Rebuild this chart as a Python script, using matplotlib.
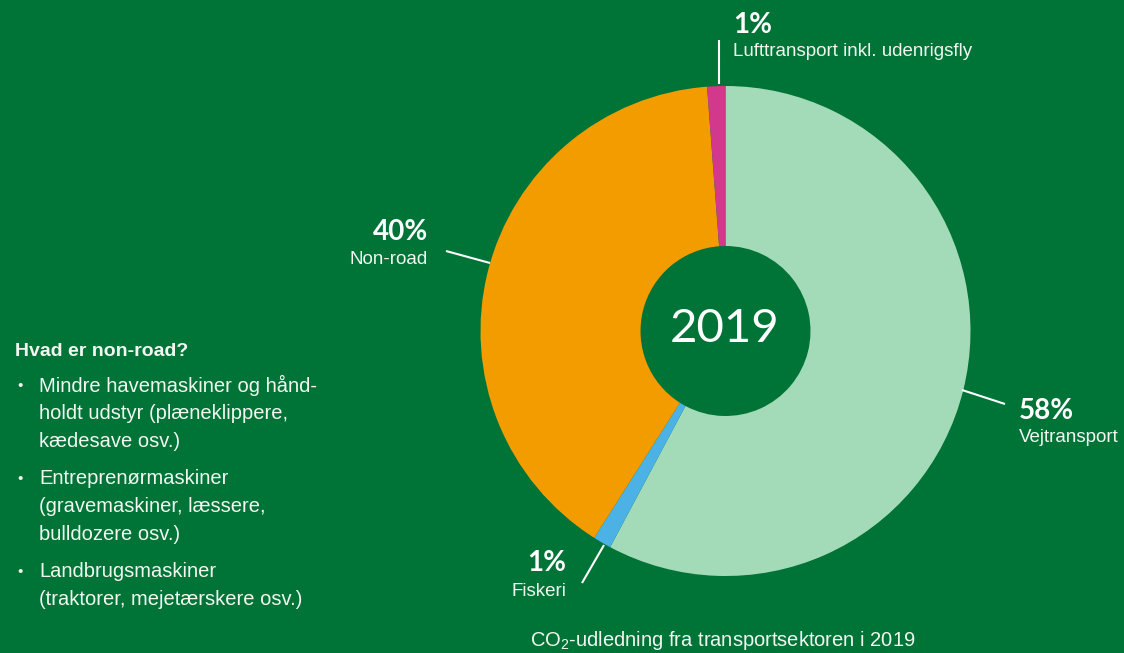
import matplotlib
matplotlib.use("Agg")
import matplotlib.pyplot as plt

# andele af CO2-udledning fra transportsektoren 2019
sectors = ["Vejtransport", "Fiskeri", "Non-road", "Lufttransport inkl. udenrigsfly"]
shares = [57.8, 1.2, 39.8, 1.2]
pct_labels = ["58%", "1%", "40%", "1%"]
colors = ["#a3dbb9", "#4cb1e5", "#f39c00", "#d2388c"]

year = "2019"
caption = "CO$_2$-udledning fra transportsektoren i 2019"
box_title = "Hvad er non-road?"
box_items = [
    ["Mindre havemaskiner og hånd-", "holdt udstyr (plæneklippere,", "kædesave osv.)"],
    ["Entreprenørmaskiner", "(gravemaskiner, læssere,", "bulldozere osv.)"],
    ["Landbrugsmaskiner", "(traktorer, mejetærskere osv.)"],
]

BG = "#007336"
FG = "#f2f7f2"
W, H = 1124, 653

plt.rcParams["mathtext.fontset"] = "custom"
plt.rcParams["mathtext.rm"] = "Liberation Sans"
plt.rcParams["mathtext.it"] = "Liberation Sans"


def Y(y):
    # billed-koordinat (top=0) -> data-koordinat
    return H - y


fig = plt.figure(figsize=(W / 100, H / 100), dpi=100, facecolor=BG)
ax = fig.add_axes([0, 0, 1, 1])
ax.set_facecolor(BG)

ax.pie(shares, colors=colors, startangle=90, counterclock=False,
       radius=245, center=(725.5, Y(331)),
       wedgeprops=dict(width=160, linewidth=0))
ax.set_xlim(0, W)
ax.set_ylim(0, H)
ax.set_aspect("auto")
ax.axis("off")

ax.text(725, Y(329), year, ha="center", va="center", color="white",
        fontsize=34, family="Lato", fontweight="normal")

# etiketter: (procent-pos, navn-pos, ha, streg)
layout = {
    "Vejtransport": ((1019, 411), (1019, 438), "left", ((962, 390), (1005, 404))),
    "Fiskeri": ((566, 563), (566, 592), "right", ((604, 545), (582, 583))),
    "Non-road": ((428, 232), (428, 259), "right", ((446, 251), (490, 263))),
    "Lufttransport inkl. udenrigsfly": ((733, 25), (733, 52), "left", ((719, 40), (719, 84))),
}
for name, pct in zip(sectors, pct_labels):
    (px, py), (nx, ny), ha, ((x0, y0), (x1, y1)) = layout[name]
    ax.text(px, Y(py), pct, ha=ha, va="center", color="white",
            fontsize=20, family="Lato", fontweight="bold")
    ax.text(nx, Y(ny), name, ha=ha, va="center", color=FG,
            fontsize=13.5, family="Liberation Sans")
    ax.plot([x0, x1], [Y(y0), Y(y1)], color="white", lw=1.5,
            solid_capstyle="butt")

# boks til venstre
ax.text(15, Y(351), box_title, ha="left", va="center", color=FG,
        fontsize=14, family="Liberation Sans", fontweight="bold")
y = 385
for item in box_items:
    ax.text(17, Y(y + 1), "•", ha="left", va="center", color=FG,
            fontsize=11, family="Liberation Sans")
    for line in item:
        ax.text(39, Y(y), line, ha="left", va="center", color=FG,
                fontsize=14.5, family="Liberation Sans")
        y += 28.2
    y += 8.5

ax.text(723, Y(640), caption, ha="center", va="center", color=FG,
        fontsize=14.5, family="Liberation Sans")

fig.savefig("out.png", dpi=100, facecolor=BG)
